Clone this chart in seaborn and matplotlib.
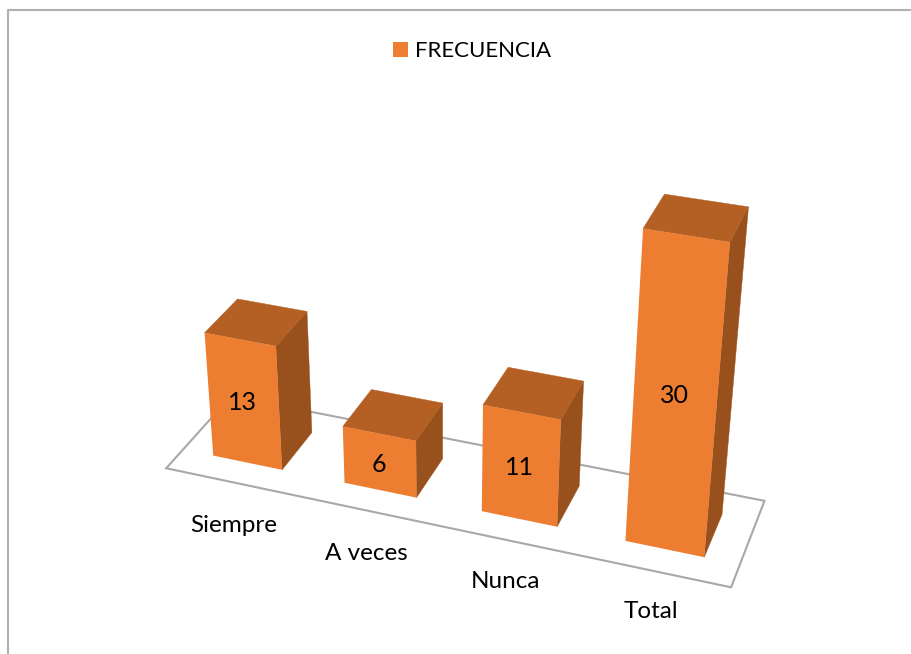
import numpy as np
import matplotlib
matplotlib.use("Agg")
import matplotlib.pyplot as plt
import seaborn as sns
from matplotlib.lines import Line2D
from matplotlib.patches import Patch, Polygon
from matplotlib.transforms import Affine2D, Transform

categories = ["Siempre", "A veces", "Nunca", "Total"]
values = [13, 6, 11, 30]
series_name = "FRECUENCIA"

FRONT = "#ED7D31"
TOP = "#B45F24"
SIDE = "#98511D"
LINE = "#A8A8A8"
BAR_WIDTH = 0.53
FLOOR_DEPTH = 0.5

# image pixels of each bar's corners, used to calibrate the 3d view:
# front BL, BR, TR, TL, back TL, TR, BR
CALIBRATION = [
    [(214, 456), (281, 469), (274, 345), (205, 333), (239, 299), (305, 312), (311, 432)],
    [(345, 483), (416, 497), (415, 441), (344, 427), (373, 390), (442, 403), (442, 458)],
    [(483, 512), (556, 526), (560, 420), (484, 405), (510, 368), (583, 381), (579, 486)],
    [(627, 541), (704, 557), (729, 242), (644, 229), (666, 194), (747, 206), (722, 515)],
]


def fit_view():
    rows, target = [], []
    for i, corners in enumerate(CALIBRATION):
        left, right = i - BAR_WIDTH / 2, i + BAR_WIDTH / 2
        v = values[i]
        model = [(left, 0, 0), (right, 0, 0), (right, 0, v), (left, 0, v),
                 (left, 1, v), (right, 1, v), (right, 1, 0)]
        for (x, y, z), (u, w) in zip(model, corners):
            rows.append([x, y, z, 1, 0, 0, 0, 0, -u * x, -u * y, -u * z])
            rows.append([0, 0, 0, 0, x, y, z, 1, -w * x, -w * y, -w * z])
            target += [u, w]
    p = np.linalg.lstsq(np.array(rows, float), np.array(target, float), rcond=None)[0]
    return np.append(p, 1).reshape(3, 4)


VIEW = fit_view()


def project(x, y, z):
    x, y, z = np.broadcast_arrays(x, y, z)
    pts = np.column_stack([x.ravel(), y.ravel(), z.ravel(), np.ones(x.size)])
    out = pts @ VIEW.T
    return out[:, :2] / out[:, 2:]


class FrontPlane(Transform):
    input_dims = 2
    output_dims = 2

    def transform_non_affine(self, xy):
        xy = np.asarray(xy)
        return PIXELS.transform(project(xy[:, 0], 0.0, xy[:, 1]))


sns.set_theme(style="white")
plt.rcParams["font.family"] = ["Lato", "DejaVu Sans"]

fig = plt.figure(figsize=(9.12, 6.54), dpi=100)
ax = fig.add_axes([0, 0, 1, 1])
PIXELS = Affine2D().scale(1, -1).translate(0, 654)

sns.barplot(x=categories, y=values, color=FRONT, saturation=1, width=BAR_WIDTH,
            linewidth=0, edgecolor="none", ax=ax, zorder=5)
ax.axis("off")

# chart frame, cut by the picture on the right and at the bottom
ax.add_line(Line2D([8, 8, 912], [654, 10, 10], color="#B0B0B0", lw=1.5,
                   transform=PIXELS, clip_on=False, zorder=1))

# floor
floor = project([-0.5, 3.5, 3.5, -0.5], [-FLOOR_DEPTH, -FLOOR_DEPTH, 1 + FLOOR_DEPTH, 1 + FLOOR_DEPTH], 0)
ax.add_patch(Polygon(floor, closed=True, fill=False, edgecolor=LINE, lw=1.5,
                     transform=PIXELS, clip_on=False, zorder=2))

for i, bar in enumerate(ax.patches[:len(values)]):
    x0, x1, h = bar.get_x(), bar.get_x() + bar.get_width(), bar.get_height()
    top = project([x0, x1, x1, x0], [0, 0, 1, 1], h)
    side = project(x1, [0, 1, 1, 0], [0, 0, h, h])
    ax.add_patch(Polygon(side, closed=True, facecolor=SIDE, edgecolor=SIDE, lw=0.3,
                         transform=PIXELS, clip_on=False, zorder=3))
    ax.add_patch(Polygon(top, closed=True, facecolor=TOP, edgecolor=TOP, lw=0.3,
                         transform=PIXELS, clip_on=False, zorder=4))
    bar.set_transform(FrontPlane())
    bar.set_clip_on(False)

    cx = x0 + bar.get_width() / 2
    (lx, ly), = project(cx, 0, 0.525 * h - 0.35)
    ax.text(lx - 1, ly, str(values[i]), transform=PIXELS, ha="center", va="center",
            fontsize=18, color="black", zorder=6)
    (tx, ty), = project(cx, 0, 0)
    ax.text(tx - 14, ty + 63, categories[i], transform=PIXELS, ha="center", va="center",
            fontsize=17.5, color="black", zorder=6)

ax.legend(handles=[Patch(color=FRONT, lw=0, label=series_name)], loc="center left",
          bbox_to_anchor=(393, 51), bbox_transform=PIXELS, frameon=False,
          borderpad=0, borderaxespad=0, handlelength=0.69, handleheight=0.69,
          handletextpad=0.32, fontsize=16, labelcolor="black")

fig.savefig("out.png", dpi=100)
